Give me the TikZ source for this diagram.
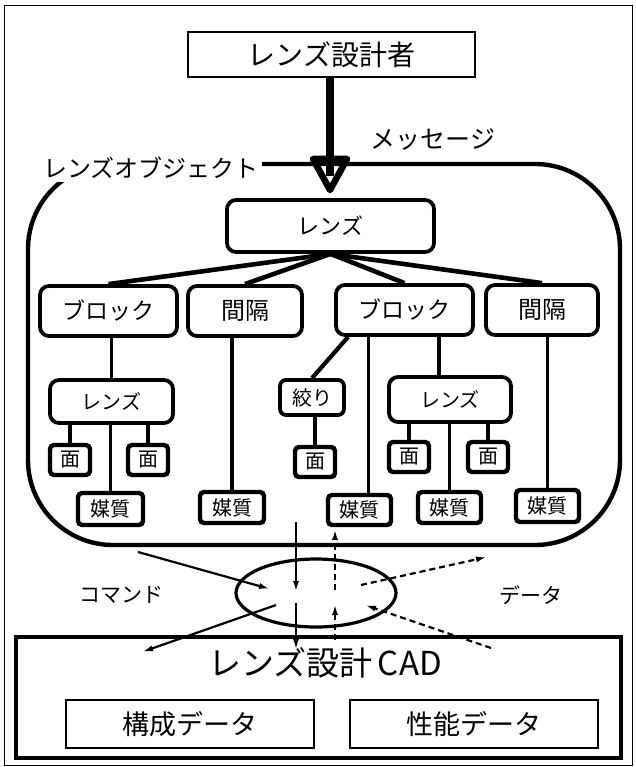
\documentclass[tikz,border=0pt]{standalone}
\usepackage{fontspec}
\setmainfont{Noto Sans CJK JP}
\usetikzlibrary{arrows.meta,shapes.geometric,calc}

\begin{document}
\begin{tikzpicture}[x=1pt,y=1pt,yscale=-1,
  objbox/.style={draw,line width=3.8pt,rounded corners=9pt,inner sep=0pt},
  leafbox/.style={draw,line width=4.4pt,rounded corners=4pt,inner sep=0pt},
  plainbox/.style={draw,line width=2.8pt,inner sep=0pt},
  link/.style={line width=3.4pt},
  flow/.style={line width=2.2pt,-{Latex[length=11pt,width=6pt]}},
  dflow/.style={flow,dash pattern=on 6pt off 4pt}]
\useasboundingbox (0,0) rectangle (636,767);

%Outer frame
\draw[line width=1pt] (4,6) rectangle (632,765);

% Lens designer
\node[plainbox,minimum width=287pt,minimum height=45pt,font=\fontsize{28}{30}\selectfont] (dsg) at (331.5,54.5) {レンズ設計者};

% Lens object frame
\draw[line width=4.4pt,rounded corners=85pt] (28,164) rectangle (620,545);
\node[fill=white,anchor=east,inner sep=3pt,font=\fontsize{24}{26}\selectfont] (objlbl) at (262,168) {レンズオブジェクト};

% Message arrow
\coordinate (msgend) at (330,190);
\draw[line width=7.5pt] (dsg.south -| msgend) -- ($(msgend)+(0,-14)$);
\draw[line width=6.5pt,line join=round] ($(msgend)+(-17,-31)$) -- (msgend) -- ($(msgend)+(17,-31)$) -- cycle;
\node[font=\fontsize{25}{27}\selectfont] (msg) at (433,140) {メッセージ};

% Tree: lens
\node[objbox,minimum width=207pt,minimum height=52pt,font=\fontsize{22}{24}\selectfont] (lens) at (330.5,226) {レンズ};

% Tree: blocks and intervals
\node[objbox,minimum width=137pt,minimum height=50pt,font=\fontsize{23}{25}\selectfont] (blk1) at (108.5,311) {ブロック};
\node[objbox,minimum width=114pt,minimum height=50pt,font=\fontsize{24}{26}\selectfont] (int1) at (245,311) {間隔};
\node[objbox,minimum width=137pt,minimum height=50pt,font=\fontsize{23}{25}\selectfont] (blk2) at (404.5,310) {ブロック};
\node[objbox,minimum width=112pt,minimum height=50pt,font=\fontsize{24}{26}\selectfont] (int2) at (542,310) {間隔};

% Tree: lower level
\node[objbox,minimum width=123pt,minimum height=43pt,font=\fontsize{20}{22}\selectfont] (lensA) at (111.5,401.5) {レンズ};
\node[objbox,rounded corners=6pt,minimum width=64pt,minimum height=35pt,font=\fontsize{20}{22}\selectfont] (stop) at (312,397.5) {絞り};
\node[objbox,minimum width=122pt,minimum height=45pt,font=\fontsize{20}{22}\selectfont] (lensB) at (450,399.5) {レンズ};

\node[leafbox,minimum width=40pt,minimum height=30pt,font=\fontsize{20}{22}\selectfont] (faceA1) at (70,460) {面};
\node[leafbox,minimum width=40pt,minimum height=30pt,font=\fontsize{20}{22}\selectfont] (faceA2) at (148,460) {面};
\node[leafbox,minimum width=40pt,minimum height=30pt,font=\fontsize{20}{22}\selectfont] (faceS) at (315,462) {面};
\node[leafbox,minimum width=40pt,minimum height=30pt,font=\fontsize{20}{22}\selectfont] (faceB1) at (409,457) {面};
\node[leafbox,minimum width=40pt,minimum height=30pt,font=\fontsize{20}{22}\selectfont] (faceB2) at (488,457) {面};

\node[leafbox,minimum width=65pt,minimum height=32pt,font=\fontsize{20}{22}\selectfont] (medA) at (110.5,509) {媒質};
\node[leafbox,minimum width=64pt,minimum height=31pt,font=\fontsize{20}{22}\selectfont] (med2) at (232,507.5) {媒質};
\node[leafbox,minimum width=63pt,minimum height=30pt,font=\fontsize{20}{22}\selectfont] (med3) at (359.5,510) {媒質};
\node[leafbox,minimum width=63pt,minimum height=31pt,font=\fontsize{20}{22}\selectfont] (medB) at (449.5,507.5) {媒質};
\node[leafbox,minimum width=63pt,minimum height=32pt,font=\fontsize{20}{22}\selectfont] (med5) at (547.5,506) {媒質};

% Tree links
\draw[line width=4.6pt] (lens.south) -- (blk1.north);
\draw[line width=4.6pt] (lens.south) -- (int1.north);
\draw[line width=4.6pt] (lens.south) -- (blk2.north);
\draw[line width=4.6pt] (lens.south) -- (int2.north);

\draw[link] (lensA.north |- blk1.south) -- (lensA.north);
\draw[link] (faceA1.north |- lensA.south) -- (faceA1.north);
\draw[link] (faceA2.north |- lensA.south) -- (faceA2.north);
\draw[link] (medA.north |- lensA.south) -- (medA.north);
\draw[link] (med2.north |- int1.south) -- (med2.north);

\coordinate (stoptop) at ($(blk2.south west)+(14,0)$);
\draw[line width=4.2pt] (stoptop) -- (stop.north);
\draw[link] (faceS.north |- stop.south) -- (faceS.north);
\coordinate (m3top) at ($(med3.north)+(9,0)$);
\draw[link] (m3top |- blk2.south) -- (m3top);
\coordinate (lBtop) at ($(lensB.north)+(-11,0)$);
\draw[link] (lBtop |- blk2.south) -- (lBtop);
\draw[link] (faceB1.north |- lensB.south) -- (faceB1.north);
\draw[link] (faceB2.north |- lensB.south) -- (faceB2.north);
\draw[link] (medB.north |- lensB.south) -- (medB.north);
\draw[link] (med5.north |- int2.south) -- (med5.north);

% Interface
\node[draw,ellipse,line width=3.2pt,minimum width=160pt,minimum height=68pt,inner sep=0pt] (ifc) at (316,593) {};
\node[font=\fontsize{21}{23}\selectfont] (cmd) at (121,595) {コマンド};
\node[font=\fontsize{21}{23}\selectfont] (dat) at (531,595) {データ};

% Lens design CAD
\node[draw,line width=3.2pt,minimum width=605pt,minimum height=121pt] (cad) at (318.5,697.5) {};
\node[font=\fontsize{33}{35}\selectfont] (cadttl) at (325,663) {レンズ設計\,CAD};
\node[plainbox,minimum width=248pt,minimum height=48pt,font=\fontsize{27}{29}\selectfont] (kosei) at (190,724) {構成データ};
\node[plainbox,minimum width=248pt,minimum height=48pt,font=\fontsize{27}{29}\selectfont] (seino) at (474,724) {性能データ};

% Commands
\coordinate (a1s) at (138,552);
\coordinate (a1e) at (270,589);
\coordinate (v1s) at (296,522);
\coordinate (v1e) at (296,592);
\coordinate (v2s) at (296,603);
\coordinate (v2e) at (296,650);
\coordinate (a4s) at (276,605);
\coordinate (a4e) at (142,652);
\draw[flow] (a1s) -- (a1e);
\draw[flow] (v1s) -- (v1e);
\draw[flow] (v2s) -- (v2e);
\draw[flow] (a4s) -- (a4e);

% Data
\coordinate (d1s) at (335,640);
\coordinate (d1e) at (335,604);
\coordinate (d2s) at (335,590);
\coordinate (d2e) at (335,529);
\coordinate (d3s) at (361,585);
\coordinate (d3e) at (487,557);
\coordinate (d4s) at (491,648);
\coordinate (d4e) at (365,605);
\draw[dflow] (d1s) -- (d1e);
\draw[dflow] (d2s) -- (d2e);
\draw[dflow] (d3s) -- (d3e);
\draw[dflow] (d4s) -- (d4e);

\end{tikzpicture}
\end{document}
